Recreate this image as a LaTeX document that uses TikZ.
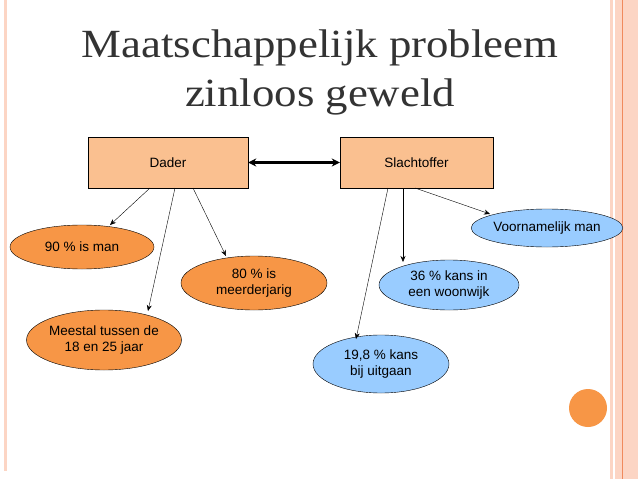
\documentclass[tikz,border=0pt]{standalone}
\usepackage{fontspec}
\setmainfont{Liberation Serif}
\newfontfamily\arialf{Liberation Sans}
\usetikzlibrary{shapes.geometric,arrows.meta}
\definecolor{peach}{HTML}{FAC090}
\definecolor{orng}{HTML}{F79646}
\definecolor{lblue}{HTML}{99CCFF}
\definecolor{strip}{HTML}{FCD5C4}
\definecolor{oline}{HTML}{F08A5D}
\begin{document}
\begin{tikzpicture}[x=1pt,y=-1pt,
  box/.style={draw=black,fill=peach,minimum width=160pt,minimum height=51pt,font=\arialf\fontsize{13.5}{16}\selectfont},
  ell/.style={draw=black,ellipse,inner sep=0pt,align=center,font=\arialf\fontsize{13.5}{16}\selectfont},
  oe/.style={ell,fill=orng},
  be/.style={ell,fill=lblue},
  arr/.style={-{Stealth[length=6pt,width=5pt]},black}]
\useasboundingbox (0,0) rectangle (638,479);
\fill[white] (0,0) rectangle (638,479);
\fill[strip] (3.5,0) rectangle (6.5,471);
\fill[strip] (610,0) rectangle (638,479);
\fill[white] (613,0) rectangle (615,479);
\draw[oline,line width=0.8pt] (622,0) -- (622,479);
\fill[orng] (588,408) circle (19);
\node[font=\fontsize{40}{49}\selectfont,text=black!80,align=center,xscale=1.12] (t) at (320,72) {Maatschappelijk probleem\\zinloos geweld};
\node[box] (d) at (168,162.5) {Dader};
\node[box,minimum width=153pt] (s) at (416.5,162.5) {Slachtoffer};
\draw[{Stealth[length=8pt,width=8pt]}-{Stealth[length=8pt,width=8pt]},line width=2.5pt] (d.east) -- (s.west);
\node[oe,minimum width=144pt,minimum height=44pt] (a) at (82,247) {90 \% is man};
\node[oe,minimum width=146pt,minimum height=54pt] (b) at (254,283) {80 \% is\\meerderjarig};
\node[oe,minimum width=140pt,minimum height=60pt] (c) at (104,340) {Meestal tussen de\\18 en 25 jaar};
\node[be,minimum width=136pt,minimum height=38pt] (e) at (547,228) {Voornamelijk man};
\node[be,minimum width=140pt,minimum height=50pt] (f) at (449,285) {36 \% kans in\\een woonwijk};
\node[be,minimum width=136pt,minimum height=58pt] (g) at (381,364) {19,8 \% kans\\bij uitgaan};
\coordinate (d1) at (150,188); \coordinate (d2) at (175,188); \coordinate (d3) at (193,188);
\coordinate (s1) at (388,188); \coordinate (s2) at (403,188); \coordinate (s3) at (415,188);
\coordinate (ea) at (110,225); \coordinate (ec) at (148,311); \coordinate (eb) at (226,256);
\coordinate (eg) at (356,339); \coordinate (ef) at (403,262); \coordinate (ee) at (490,214);
\draw[arr] (d1) -- (ea);
\draw[arr] (d2) -- (ec);
\draw[arr] (d3) -- (eb);
\draw[arr] (s1) -- (eg);
\draw[arr] (s2) -- (ef);
\draw[arr] (s3) -- (ee);
\end{tikzpicture}
\end{document}
